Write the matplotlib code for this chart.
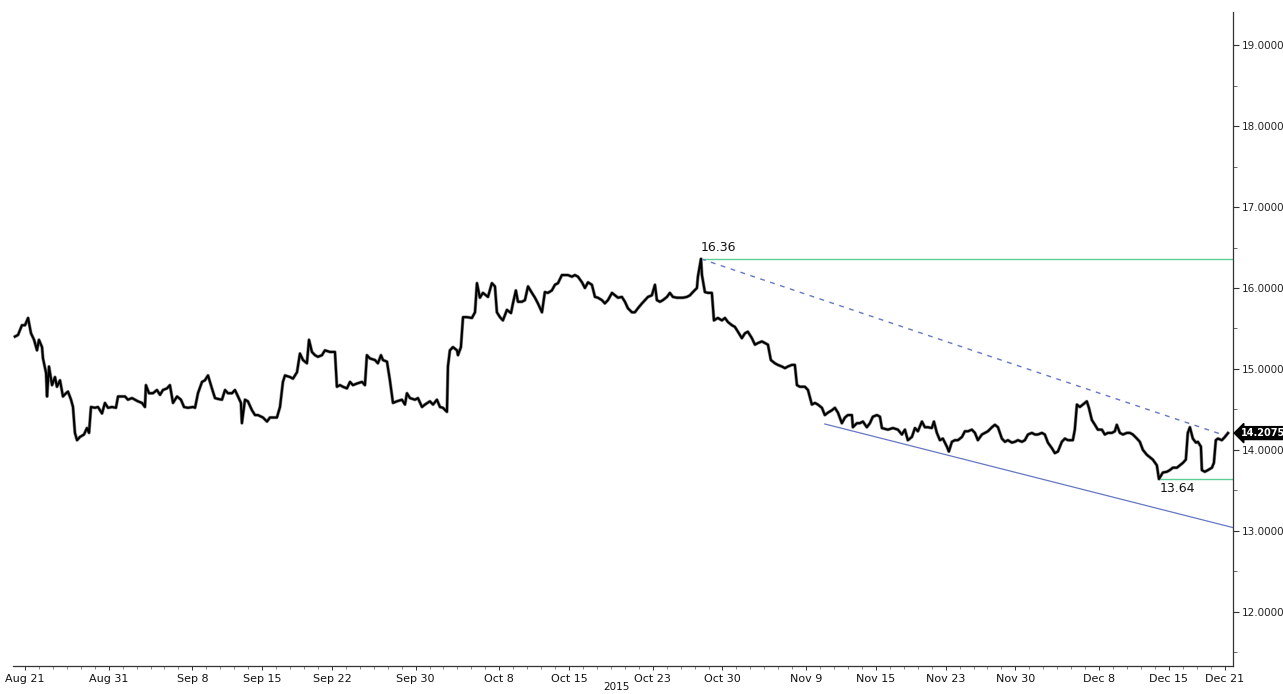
import numpy as np
import matplotlib
matplotlib.use("Agg")
from matplotlib import pyplot as plt
from matplotlib import ticker, transforms

START = "2015-08-21"

# trading days since Aug 21 (intraday readings) and price
DAYS_AUG_SEP = [
    -0.72, -0.50, -0.22, 0.00, 0.22, 0.43, 0.65, 0.86, 1.00, 1.22,
    1.29, 1.51, 1.58, 1.72, 1.94, 2.15, 2.29, 2.51, 2.72, 2.94,
    3.08, 3.30, 3.44, 3.58, 3.73, 3.94, 4.23, 4.44, 4.59, 4.73,
    5.02, 5.23, 5.52, 5.73, 5.95, 6.24, 6.52, 6.67, 6.95, 7.17,
    7.38, 7.67, 7.88, 8.10, 8.39, 8.60, 8.67, 8.89, 9.17, 9.46,
    9.68, 9.89, 10.18, 10.39, 10.61, 10.90, 11.18, 11.40, 11.68, 12.04,
    12.19, 12.40, 12.69, 12.90, 13.12, 13.40, 13.62, 13.83,
    14.12, 14.34, 14.55, 14.84, 15.05, 15.27, 15.48, 15.55, 15.77, 15.98,
    16.27, 16.49, 16.70, 17.06, 17.35, 17.56, 17.78, 18.06, 18.28, 18.49,
    18.64, 19.00, 19.21, 19.50, 19.71, 19.93, 20.21, 20.36, 20.57, 20.79,
    21.00, 21.29, 21.50, 21.86, 22.22, 22.36, 22.58, 22.79, 23.08, 23.30,
    23.51, 23.80, 24.16, 24.37, 24.51, 24.73, 25.09, 25.30, 25.52, 25.66,
    25.95, 26.16, 26.38, 26.66, 27.02, 27.24, 27.38, 27.60, 27.96, 28.17,
    28.46, 28.67, 29.03, 29.25, 29.53, 29.75, 29.96, 30.25, 30.32,
]
PRICE_AUG_SEP = [
    15.40, 15.42, 15.54, 15.54, 15.63, 15.44, 15.36, 15.23, 15.36, 15.27,
    15.13, 14.95, 14.66, 15.03, 14.80, 14.90, 14.78, 14.86, 14.66, 14.70,
    14.72, 14.62, 14.53, 14.21, 14.12, 14.16, 14.19, 14.27, 14.21, 14.53,
    14.52, 14.53, 14.45, 14.58, 14.52, 14.53, 14.52, 14.66, 14.66, 14.66,
    14.62, 14.64, 14.62, 14.60, 14.58, 14.53, 14.80, 14.70, 14.70, 14.74,
    14.68, 14.74, 14.76, 14.80, 14.58, 14.66, 14.62, 14.53, 14.52, 14.53,
    14.52, 14.70, 14.84, 14.86, 14.92, 14.76, 14.64, 14.63,
    14.62, 14.74, 14.70, 14.70, 14.74, 14.66, 14.58, 14.33, 14.62, 14.60,
    14.49, 14.43, 14.43, 14.40, 14.35, 14.40, 14.40, 14.40, 14.53, 14.84,
    14.92, 14.90, 14.88, 14.96, 15.19, 15.11, 15.07, 15.36, 15.21, 15.17,
    15.15, 15.17, 15.23, 15.21, 15.21, 14.78, 14.80, 14.78, 14.76, 14.84,
    14.80, 14.82, 14.84, 14.80, 15.17, 15.13, 15.11, 15.07, 15.17, 15.11,
    15.09, 14.86, 14.58, 14.60, 14.62, 14.56, 14.70, 14.64, 14.62, 14.64,
    14.53, 14.56, 14.60, 14.56, 14.62, 14.53, 14.52, 14.47, 15.03,
]
DAYS_OCT = [
    30.46, 30.68, 30.97, 31.04, 31.25, 31.40, 31.68, 32.04, 32.26, 32.40,
    32.61, 32.83, 33.19, 33.47, 33.69, 33.83, 34.05, 34.26, 34.55, 34.84,
    34.98, 35.19, 35.34, 35.62, 35.84, 36.06, 36.34, 36.56, 36.77, 37.06,
    37.27, 37.49, 37.77, 37.99, 38.21, 38.49, 38.71, 38.92, 39.21, 39.42,
    39.64, 39.93, 40.14, 40.36, 40.64, 40.86, 41.07, 41.36, 41.57, 41.79,
    42.08, 42.29, 42.51, 42.79, 43.01, 43.22, 43.51, 43.72, 43.94, 44.23,
    44.44, 44.66, 44.94, 45.16, 45.30, 45.52, 45.73, 46.02, 46.23, 46.45,
    46.74, 46.95, 47.17, 47.45, 47.67, 47.88, 48.17, 48.24, 48.46, 48.53,
    48.74, 48.96,
]
PRICE_OCT = [
    15.23, 15.27, 15.23, 15.17, 15.27, 15.64, 15.64, 15.63, 15.70, 16.06,
    15.88, 15.94, 15.89, 16.06, 16.02, 15.70, 15.64, 15.60, 15.73, 15.69,
    15.81, 15.97, 15.83, 15.83, 15.85, 16.02, 15.94, 15.88, 15.81, 15.70,
    15.95, 15.94, 15.97, 16.04, 16.06, 16.16, 16.16, 16.16, 16.14, 16.16,
    16.14, 16.07, 16.00, 16.07, 16.04, 15.89, 15.88, 15.85, 15.81, 15.85,
    15.94, 15.91, 15.88, 15.89, 15.83, 15.75, 15.70, 15.70, 15.75, 15.81,
    15.85, 15.89, 15.91, 16.04, 15.85, 15.83, 15.85, 15.89, 15.94, 15.89,
    15.88, 15.88, 15.88, 15.89, 15.91, 15.95, 16.00, 16.14, 16.36, 16.16,
    15.95, 15.94,
]
DAYS_NOV_DEC = [
    49.24, 49.39, 49.67, 49.96, 50.18, 50.39, 50.68, 50.89, 51.11, 51.39,
    51.61, 51.82, 52.11, 52.33, 52.54, 52.83, 53.04, 53.26, 53.47, 53.76,
    53.97, 54.26, 54.48, 54.69, 54.98, 55.19, 55.34, 55.55, 55.91, 56.13,
    56.41, 56.63, 56.84, 57.13, 57.34, 57.56, 57.85, 58.06, 58.28, 58.56,
    58.78, 58.99, 59.28, 59.35, 59.64, 59.85, 60.07, 60.35, 60.57, 60.78,
    61.07, 61.29, 61.43,
    61.86, 62.22, 62.58, 62.86, 63.08, 63.29, 63.58, 63.80, 64.01, 64.30,
    64.51, 64.73, 65.01, 65.16, 65.37, 65.59, 65.80, 66.09, 66.23, 66.45,
    66.66, 66.88, 67.17, 67.38, 67.60, 67.88, 68.10, 68.31, 68.60, 68.81,
    69.03, 69.32, 69.53, 69.75, 70.03, 70.25, 70.46, 70.75, 70.96, 71.18,
    71.47, 71.68, 71.90, 72.18, 72.40, 72.61, 72.90, 73.11, 73.33, 73.62,
    73.83, 74.05, 74.33, 74.55, 74.76,
    75.12, 75.26, 75.41, 75.62, 75.84, 76.12, 76.27, 76.48, 76.70, 76.91,
    77.20, 77.41, 77.63, 77.92, 78.13, 78.27, 78.49, 78.71, 78.99, 79.21,
    79.42, 79.71, 79.92, 80.14, 80.42, 80.64, 80.85, 81.14, 81.29, 81.57,
    81.86, 82.07, 82.29, 82.58, 82.79, 83.01, 83.22, 83.36, 83.51, 83.72,
    83.94, 84.08, 84.30, 84.37, 84.58, 84.80, 85.09, 85.23, 85.37, 85.52,
    85.80, 86.02, 86.16, 86.24,
]
PRICE_NOV_DEC = [
    15.94, 15.60, 15.63, 15.60, 15.63, 15.58, 15.54, 15.52, 15.46, 15.38,
    15.44, 15.46, 15.38, 15.30, 15.32, 15.34, 15.32, 15.30, 15.11, 15.07,
    15.05, 15.03, 15.01, 15.03, 15.05, 15.05, 14.80, 14.78, 14.78, 14.74,
    14.56, 14.58, 14.56, 14.52, 14.43, 14.46, 14.49, 14.52, 14.46, 14.33,
    14.40, 14.43, 14.43, 14.28, 14.33, 14.33, 14.35, 14.28, 14.33, 14.41,
    14.43, 14.41, 14.27,
    14.25, 14.27, 14.25, 14.19, 14.25, 14.12, 14.16, 14.27, 14.23, 14.35,
    14.28, 14.28, 14.27, 14.35, 14.21, 14.12, 14.14, 14.04, 13.98, 14.10,
    14.12, 14.12, 14.16, 14.23, 14.23, 14.25, 14.21, 14.12, 14.19, 14.21,
    14.23, 14.28, 14.31, 14.28, 14.14, 14.10, 14.12, 14.09, 14.10, 14.12,
    14.10, 14.12, 14.19, 14.21, 14.19, 14.19, 14.21, 14.19, 14.09, 14.02,
    13.96, 13.98, 14.10, 14.14, 14.12,
    14.12, 14.25, 14.56, 14.53, 14.56, 14.60, 14.52, 14.37, 14.31, 14.25,
    14.25, 14.19, 14.21, 14.21, 14.23, 14.31, 14.21, 14.19, 14.21, 14.21,
    14.19, 14.14, 14.10, 14.00, 13.94, 13.91, 13.88, 13.81, 13.64, 13.72,
    13.73, 13.75, 13.78, 13.78, 13.81, 13.84, 13.88, 14.21, 14.28, 14.14,
    14.09, 14.10, 14.04, 13.75, 13.73, 13.75, 13.78, 13.84, 14.12, 14.14,
    14.12, 14.16, 14.19, 14.2075,
]

TICK_DATES = ["2015-08-21", "2015-08-31", "2015-09-08", "2015-09-15", "2015-09-22",
              "2015-09-30", "2015-10-08", "2015-10-15", "2015-10-23", "2015-10-30",
              "2015-11-09", "2015-11-15", "2015-11-23", "2015-11-30", "2015-12-08",
              "2015-12-15", "2015-12-21"]
TICK_LABELS = ["Aug 21", "Aug 31", "Sep 8", "Sep 15", "Sep 22", "Sep 30", "Oct 8",
               "Oct 15", "Oct 23", "Oct 30", "Nov 9", "Nov 15", "Nov 23", "Nov 30",
               "Dec 8", "Dec 15", "Dec 21"]
YEAR_LABEL = "2015"

HIGH_DAY, HIGH = 48.46, 16.36
LOW_DAY, LOW = 81.29, 13.64
LAST = 14.2075
UPPER_TREND = ([48.46, 86.16], [16.36, 14.17])
LOWER_TREND_START = (57.34, 14.32)
LOWER_TREND_END_VALUE = 13.04

XLIM = (-0.86, 86.6)
YLIM = (11.33, 19.41)
GREEN = "#5ccf98"
BLUE = "#6678c4"

days = np.array(DAYS_AUG_SEP + DAYS_OCT + DAYS_NOV_DEC)
price = np.array(PRICE_AUG_SEP + PRICE_OCT + PRICE_NOV_DEC)
assert len(days) == len(price)

fig = plt.figure(figsize=(12.83, 6.94), dpi=100)
ax = fig.add_axes([13 / 1283, 1 - 666 / 694, 1220 / 1283, 654 / 694])

ax.plot(days, price, color="#8a8a8a", lw=2.4, zorder=2)
ax.plot(days, price, color="black", lw=1.5, zorder=3)

# support/resistance levels
ax.plot([HIGH_DAY, XLIM[1]], [HIGH, HIGH], color=GREEN, lw=1.0, zorder=1)
ax.plot([LOW_DAY, XLIM[1]], [LOW, LOW], color=GREEN, lw=1.0, zorder=1)
ax.plot(UPPER_TREND[0], UPPER_TREND[1], color=BLUE, lw=1.0, ls=(0, (3.5, 4)), zorder=1)
ax.plot([LOWER_TREND_START[0], XLIM[1]], [LOWER_TREND_START[1], LOWER_TREND_END_VALUE],
        color=BLUE, lw=0.9, zorder=1)

ax.annotate(f"{HIGH:.2f}", (HIGH_DAY, HIGH), xytext=(0, 5), textcoords="offset pixels",
            ha="left", va="bottom", fontsize=9, color="#111111")
ax.annotate(f"{LOW:.2f}", (LOW_DAY, LOW), xytext=(1, -3), textcoords="offset pixels",
            ha="left", va="top", fontsize=9, color="#111111")

ax.set_xlim(*XLIM)
ax.set_ylim(*YLIM)

for side in ["top", "left"]:
    ax.spines[side].set_visible(False)
for side in ["bottom", "right"]:
    ax.spines[side].set_color("#333333")
    ax.spines[side].set_linewidth(0.9)

ax.yaxis.tick_right()
ax.yaxis.set_major_locator(ticker.MultipleLocator(1.0))
ax.yaxis.set_minor_locator(ticker.MultipleLocator(0.5))
ax.yaxis.set_major_formatter(ticker.FormatStrFormatter("%.4f"))
ax.tick_params(axis="y", which="major", direction="out", length=4, width=0.8,
               pad=2, labelsize=7.5, colors="#333333", labelcolor="#222222")
ax.tick_params(axis="y", which="minor", direction="out", length=3, width=0.6, colors="#555555")

tick_pos = np.busday_count(START, TICK_DATES)
ax.set_xticks(tick_pos)
ax.set_xticklabels(TICK_LABELS)
ax.set_xticks(np.arange(0, int(XLIM[1]) + 1), minor=True)
ax.tick_params(axis="x", which="major", direction="out", length=3, width=0.7,
               pad=3, labelsize=8, colors="#333333", labelcolor="#111111")
ax.tick_params(axis="x", which="minor", direction="out", length=2, width=0.5, colors="#555555")

ax.text(0.495, -0.025, YEAR_LABEL, transform=ax.transAxes, ha="center", va="top",
        fontsize=7.5, color="#111111")

# last price tag on the axis
trans = transforms.blended_transform_factory(ax.transAxes, ax.transData)
ax.annotate(f"{LAST:.4f}", (1.0, LAST), xycoords=trans, xytext=(8, 0),
            textcoords="offset pixels", ha="left", va="center", fontsize=7,
            fontweight="bold", color="white", annotation_clip=False,
            bbox=dict(boxstyle="larrow,pad=0.15", fc="black", ec="black"))

fig.savefig("out.png", dpi=100)
